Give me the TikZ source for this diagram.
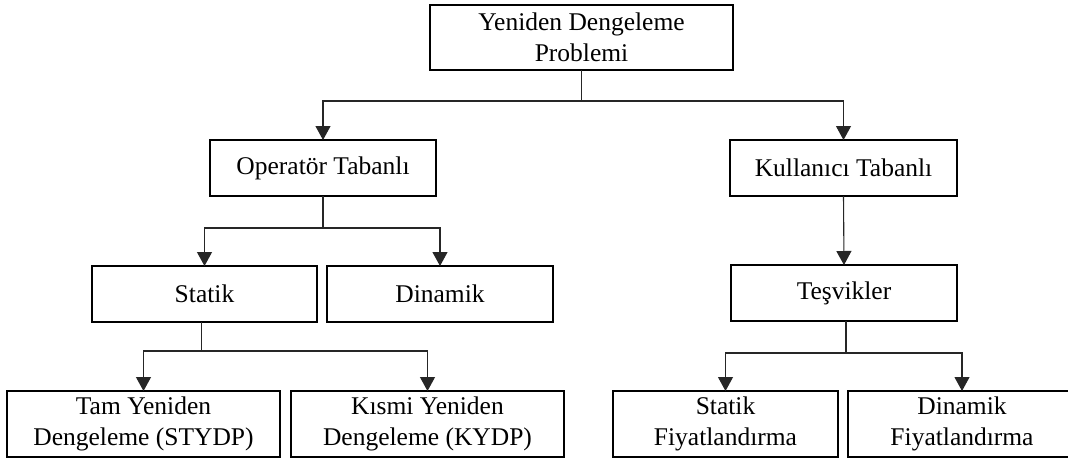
\documentclass[tikz,border=0pt]{standalone}
\usepackage{fontspec}
\setmainfont{Liberation Serif}
\usetikzlibrary{arrows.meta}
\tikzset{
  box/.style={draw=black, line width=2.6pt, rectangle, inner sep=0pt, outer sep=0pt,
    align=center, font=\fontsize{25.5}{31}\selectfont},
  conn/.style={draw=black!85, line width=1.1pt},
  arr/.style={conn, -{Triangle[width=15pt,length=14pt]}}
}
\begin{document}
\begin{tikzpicture}[x=1pt,y=-1pt]
\clip (0,0) rectangle (1068,459);
\fill[white] (0,0) rectangle (1068,459);
% boxes
\node[box, minimum width=303pt, minimum height=65pt] (top) at (581.5,37.5) {Yeniden Dengeleme\\Problemi};
\node[box, minimum width=226pt, minimum height=56pt] (op) at (323,168) {Operatör Tabanlı};
\node[box, minimum width=227pt, minimum height=56pt] (ku) at (843.5,168) {Kullanıcı Tabanlı};
\node[box, minimum width=225pt, minimum height=56pt] (st) at (204.5,294) {Statik};
\node[box, minimum width=226pt, minimum height=56pt] (di) at (440,294) {Dinamik};
\node[box, minimum width=226pt, minimum height=56pt] (te) at (844,293) {Teşvikler};
\node[box, minimum width=273pt, minimum height=66pt] (tam) at (143.5,424) {Tam Yeniden\\Dengeleme (STYDP)};
\node[box, minimum width=273pt, minimum height=66pt] (kis) at (427.5,424) {Kısmi Yeniden\\Dengeleme (KYDP)};
\node[box, minimum width=225pt, minimum height=66pt] (sf) at (725.5,424) {Statik\\Fiyatlandırma};
\node[box, minimum width=228pt, minimum height=66pt] (df) at (962,424) {Dinamik\\Fiyatlandırma};
% junctions
\coordinate (j1) at (581.5,101);
\coordinate (j2) at (323,228);
\coordinate (j3) at (201.5,351);
\coordinate (j4) at (846,353);
% connectors
\draw[conn] (top.south) -- (j1);
\draw[arr] (j1) -| (op.north);
\draw[arr] (j1) -| (ku.north);
\draw[conn] (op.south) -- (j2);
\draw[arr] (j2) -| (st.north);
\draw[arr] (j2) -| (di.north);
\draw[arr] (ku.south) -- (te.north);
\draw[conn] ([xshift=-3pt]st.south) -- (j3);
\draw[arr] (j3) -| (tam.north);
\draw[arr] (j3) -| (kis.north);
\draw[conn] ([xshift=2pt]te.south) -- (j4);
\draw[arr] (j4) -| (sf.north);
\draw[arr] (j4) -| (df.north);
\end{tikzpicture}
\end{document}
